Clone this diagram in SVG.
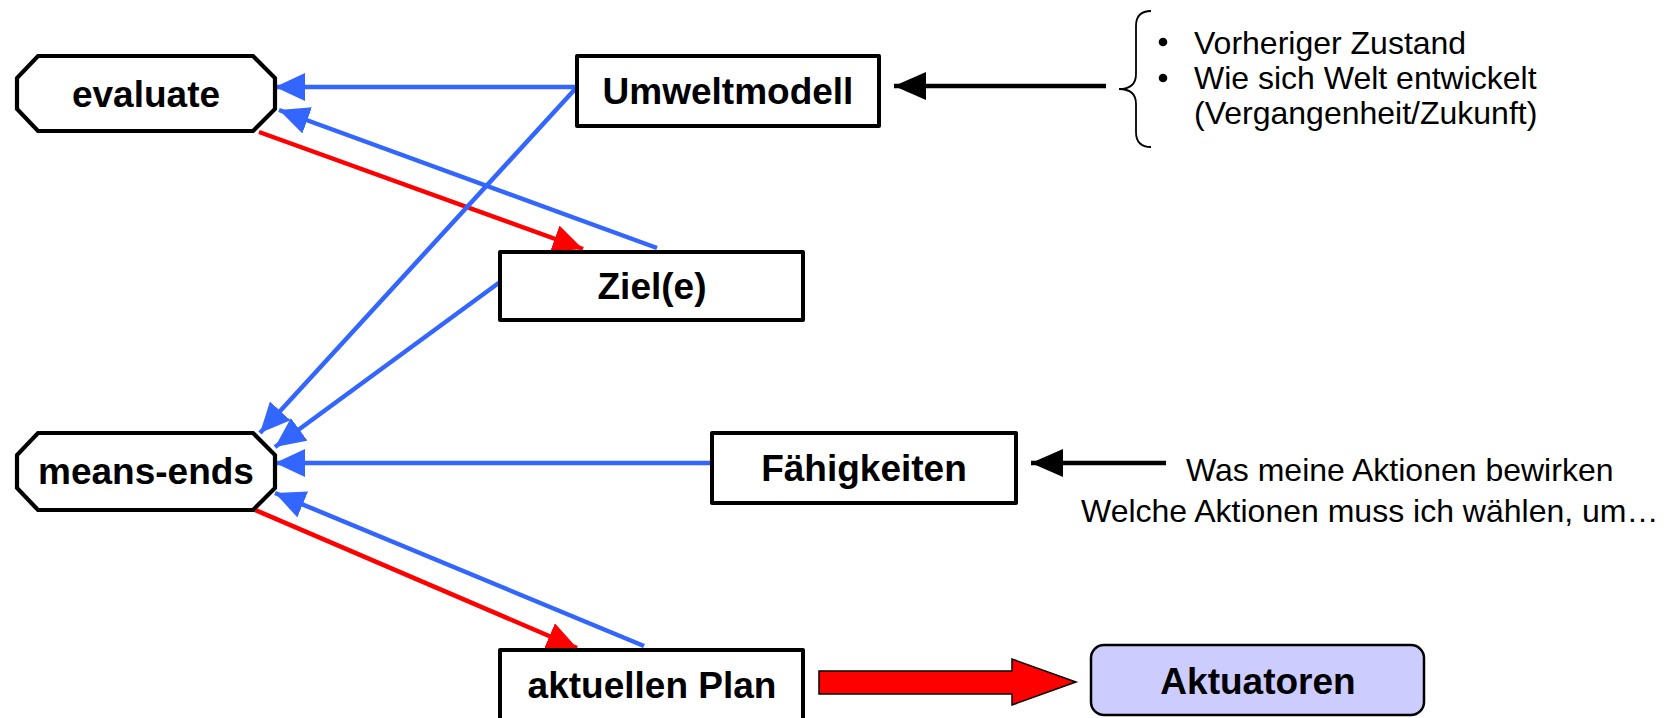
<svg xmlns="http://www.w3.org/2000/svg" width="1679" height="718" viewBox="0 0 1679 718">
  <defs>
    <style>
      .box { fill: #ffffff; stroke: #000000; stroke-width: 4; stroke-linejoin: round; }
      .oct { fill: #ffffff; stroke: #000000; stroke-width: 4.2; stroke-linejoin: miter; }
      .act { fill: #ccccff; stroke: #000000; stroke-width: 2.5; }
      .lbl { font-family: "Liberation Sans", Arial, sans-serif; font-weight: bold; font-size: 37px; fill: #000000; text-anchor: middle; }
      .note { font-family: "Liberation Sans", Arial, sans-serif; font-size: 32px; fill: #000000; }
      .blue { stroke: #3366ff; stroke-width: 4.5; fill: none; marker-end: url(#headBlue); }
      .red { stroke: #ff0000; stroke-width: 4.5; fill: none; marker-end: url(#headRed); }
      .black { stroke: #000000; stroke-width: 4.5; fill: none; marker-end: url(#headBlack); }
    </style>
    <marker id="headBlue" markerUnits="userSpaceOnUse" markerWidth="32" markerHeight="30" refX="30" refY="14" orient="auto">
      <path d="M0,0 L30,14 L0,28 Z" fill="#3366ff"/>
    </marker>
    <marker id="headRed" markerUnits="userSpaceOnUse" markerWidth="32" markerHeight="30" refX="30" refY="14" orient="auto">
      <path d="M0,0 L30,14 L0,28 Z" fill="#ff0000"/>
    </marker>
    <marker id="headBlack" markerUnits="userSpaceOnUse" markerWidth="34" markerHeight="30" refX="32" refY="14" orient="auto">
      <path d="M0,0 L32,14 L0,28 Z" fill="#000000"/>
    </marker>
  </defs>

  <rect width="1679" height="718" fill="#ffffff"/>

  <!-- connectors -->
  <g id="connectors">
    <line class="blue" x1="577" y1="87" x2="275" y2="87"/>
    <line class="blue" x1="657" y1="248" x2="279" y2="110"/>
    <line class="red" x1="259" y1="132" x2="583" y2="249"/>
    <line class="blue" x1="577" y1="87" x2="260" y2="433"/>
    <line class="blue" x1="500" y1="282" x2="275" y2="447"/>
    <line class="blue" x1="712" y1="463" x2="275" y2="463"/>
    <line class="red" x1="253" y1="509" x2="577" y2="648"/>
    <line class="blue" x1="644" y1="646" x2="275" y2="493"/>
    <line class="black" x1="1106" y1="86" x2="894" y2="86"/>
    <line class="black" x1="1166" y1="463" x2="1031" y2="463"/>
    <!-- block arrow from plan to actuators -->
    <polygon points="819,671 1012,671 1012,659 1076,682 1012,705 1012,694 819,694" fill="#ff0000" stroke="#000000" stroke-width="1.5" stroke-linejoin="miter"/>
  </g>

  <g id="evaluate">
    <polygon class="oct" points="38,56 253,56 275,78 275,109 253,131 38,131 17,109 17,78"/>
    <text class="lbl" x="146" y="107">evaluate</text>
  </g>

  <g id="means-ends">
    <polygon class="oct" points="38,433 253,433 275,455 275,488 253,510 38,510 17,488 17,455"/>
    <text class="lbl" x="146" y="484">means-ends</text>
  </g>

  <g id="umweltmodell">
    <rect class="box" x="577" y="56" width="302" height="70"/>
    <text class="lbl" x="728" y="104">Umweltmodell</text>
  </g>

  <g id="ziele">
    <rect class="box" x="500" y="252" width="303" height="68"/>
    <text class="lbl" x="652" y="299">Ziel(e)</text>
  </g>

  <g id="faehigkeiten">
    <rect class="box" x="712" y="433" width="304" height="70"/>
    <text class="lbl" x="864" y="481">Fähigkeiten</text>
  </g>

  <g id="plan">
    <rect class="box" x="500" y="650" width="303" height="72"/>
    <text class="lbl" x="652" y="698">aktuellen Plan</text>
  </g>

  <g id="aktuatoren">
    <rect class="act" x="1091" y="645" width="333" height="70" rx="13" ry="13"/>
    <text class="lbl" x="1258" y="694">Aktuatoren</text>
  </g>

  <!-- annotation for the world model -->
  <g id="world-notes">
    <path d="M1151,11 Q1136,11 1136,26 L1136,74 Q1136,89 1119,89 Q1136,89 1136,104 L1136,132 Q1136,147 1151,147" fill="none" stroke="#000000" stroke-width="1.8"/>
    <circle cx="1163" cy="42" r="4.3" fill="#000000"/>
    <circle cx="1163" cy="78" r="4.3" fill="#000000"/>
    <text class="note" x="1194" y="54">Vorheriger Zustand</text>
    <text class="note" x="1194" y="89">Wie sich Welt entwickelt</text>
    <text class="note" x="1194" y="124">(Vergangenheit/Zukunft)</text>
  </g>

  <!-- annotation for the capabilities -->
  <g id="capability-notes">
    <text class="note" x="1186" y="481">Was meine Aktionen bewirken</text>
    <text class="note" x="1081" y="522">Welche Aktionen muss ich wählen, um…</text>
  </g>
</svg>
